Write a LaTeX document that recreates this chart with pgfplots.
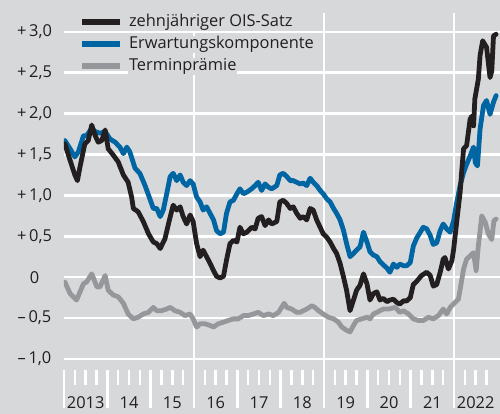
\documentclass[border=0pt]{standalone}
\usepackage{fontspec}
\setmainfont{Open Sans}
\usepackage{pgfplots}
\pgfplotsset{compat=1.18}
\definecolor{bg}{RGB}{215,216,218}
\definecolor{cblack}{RGB}{35,31,32}
\definecolor{cblue}{RGB}{0,101,163}
\definecolor{cgray}{RGB}{150,151,154}
\definecolor{txt}{RGB}{35,31,32}
\newcommand{\lblfont}{\fontsize{16.4bp}{19bp}\selectfont}
\begin{document}
\begin{tikzpicture}
\fill[bg] (0bp,0bp) rectangle (500bp,414bp);
\useasboundingbox (0bp,0bp) rectangle (500bp,414bp);
\begin{axis}[
  at={(64bp,6bp)}, anchor=south west,
  scale only axis, width=436bp, height=395bp,
  xmin=2013, xmax=2023.06, ymin=-1.6, ymax=3.23,
  axis line style={draw=none},
  tick pos=left,
  tick align=inside,
  major tick length=38bp,
  xtick={2013,2014,2015,2016,2017,2018,2019,2020,2021,2022},
  xticklabels={2013,14,15,16,17,18,19,20,21,2022},
  x tick style={white, line width=2.5bp},
  y tick style={draw=none},
  ytick={-1,-0.5,0,0.5,1,1.5,2,2.5,3},
  yticklabels={{–\,1,0},{–\,0,5},0,{+\,0,5},{+\,1,0},{+\,1,5},{+\,2,0},{+\,2,5},{+\,3,0}},
  ymajorgrids,
  extra x ticks={2016,2019,2022},
  extra x tick labels={},
  extra x tick style={grid=major},
  grid style={white, line width=2.5bp},
  xticklabel style={font=\lblfont, text=txt, anchor=center, xshift=21.67bp, yshift=5bp},
  yticklabel style={font=\lblfont, text=txt, anchor=center, xshift=-29.5bp},
  legend style={at={(rel axis cs:0.034,0.998)}, anchor=north west, draw=none, fill=none,
    inner sep=0pt, row sep=5bp, column sep=5bp, font=\lblfont, text=txt,
    nodes={fill=bg, inner sep=1bp, text height=11.5bp, text depth=3.5bp}},
  legend cell align=left,
  legend image code/.code={\draw[#1, line width=6bp, line cap=butt] (0bp,0bp) -- (38bp,0bp);},
  reverse legend,
  every axis plot/.append style={line width=4.8bp, line join=round, line cap=round},
]
\pgfplotsinvokeforeach{2013,2014,2015,2016,2017,2018,2019,2020,2021,2022}{
  \draw[white, line width=2.5bp] (axis cs:#1.25,-1.138) -- (axis cs:#1.25,-1.321);
  \draw[white, line width=2.5bp] (axis cs:#1.5,-1.138) -- (axis cs:#1.5,-1.321);
  \draw[white, line width=2.5bp] (axis cs:#1.75,-1.138) -- (axis cs:#1.75,-1.321);
}
% Terminpraemie
\addplot[cgray] coordinates {
(2013.02,-0.06)(2013.14,-0.20)(2013.29,-0.28)(2013.45,-0.08)(2013.52,-0.06)(2013.64,0.04)(2013.76,-0.12)(2013.83,-0.12)(2013.95,0.02)(2014.02,-0.16)(2014.14,-0.22)(2014.25,-0.24)(2014.37,-0.32)(2014.48,-0.45)(2014.60,-0.51)(2014.71,-0.49)(2014.83,-0.45)(2014.95,-0.43)(2015.06,-0.37)(2015.14,-0.41)(2015.25,-0.41)(2015.37,-0.39)(2015.45,-0.37)(2015.56,-0.41)(2015.68,-0.43)(2015.79,-0.47)(2015.91,-0.45)(2015.98,-0.51)(2016.06,-0.61)(2016.14,-0.57)(2016.25,-0.57)(2016.37,-0.59)(2016.45,-0.61)(2016.56,-0.57)(2016.68,-0.55)(2016.79,-0.53)(2016.91,-0.51)(2017.02,-0.51)(2017.14,-0.47)(2017.25,-0.47)(2017.37,-0.45)(2017.48,-0.43)(2017.60,-0.47)(2017.72,-0.45)(2017.83,-0.47)(2017.95,-0.43)(2018.02,-0.37)(2018.08,-0.32)(2018.14,-0.37)(2018.25,-0.39)(2018.37,-0.43)(2018.45,-0.43)(2018.52,-0.41)(2018.60,-0.39)(2018.72,-0.35)(2018.79,-0.37)(2018.87,-0.41)(2018.98,-0.45)(2019.10,-0.49)(2019.22,-0.51)(2019.33,-0.55)(2019.41,-0.61)(2019.52,-0.65)(2019.60,-0.67)(2019.68,-0.59)(2019.75,-0.53)(2019.87,-0.51)(2019.99,-0.49)(2020.06,-0.51)(2020.14,-0.45)(2020.22,-0.43)(2020.29,-0.41)(2020.37,-0.39)(2020.49,-0.39)(2020.64,-0.37)(2020.75,-0.43)(2020.83,-0.41)(2020.95,-0.45)(2021.06,-0.51)(2021.18,-0.53)(2021.29,-0.53)(2021.41,-0.49)(2021.52,-0.51)(2021.64,-0.47)(2021.75,-0.39)(2021.83,-0.45)(2021.91,-0.37)(2022.02,-0.31)(2022.10,-0.27)(2022.14,-0.15)(2022.22,0.10)(2022.29,0.22)(2022.37,0.26)(2022.45,0.30)(2022.51,0.08)(2022.56,0.38)(2022.64,0.75)(2022.72,0.67)(2022.79,0.53)(2022.87,0.46)(2022.92,0.69)(2022.97,0.71)
};
\addlegendentry{Terminprämie}
% Erwartungskomponente
\addplot[cblue] coordinates {
(2013.02,1.67)(2013.14,1.57)(2013.25,1.47)(2013.33,1.53)(2013.45,1.73)(2013.52,1.73)(2013.64,1.82)(2013.72,1.78)(2013.83,1.76)(2013.95,1.78)(2014.06,1.69)(2014.18,1.65)(2014.29,1.59)(2014.37,1.51)(2014.45,1.59)(2014.52,1.53)(2014.64,1.33)(2014.75,1.27)(2014.87,1.12)(2014.98,0.96)(2015.06,0.84)(2015.14,0.84)(2015.22,0.74)(2015.29,0.82)(2015.37,1.02)(2015.45,1.23)(2015.52,1.27)(2015.60,1.18)(2015.68,1.25)(2015.75,1.16)(2015.83,1.12)(2015.91,1.18)(2015.98,1.14)(2016.06,0.98)(2016.14,0.92)(2016.21,0.82)(2016.29,0.86)(2016.37,0.78)(2016.45,0.70)(2016.52,0.57)(2016.60,0.53)(2016.68,0.55)(2016.75,0.78)(2016.83,0.92)(2016.91,0.94)(2016.99,1.02)(2017.06,1.08)(2017.14,1.02)(2017.22,1.04)(2017.33,1.08)(2017.41,1.12)(2017.48,1.16)(2017.56,1.06)(2017.64,1.14)(2017.72,1.10)(2017.79,1.08)(2017.91,1.12)(2017.98,1.25)(2018.06,1.27)(2018.14,1.23)(2018.22,1.18)(2018.29,1.18)(2018.37,1.16)(2018.45,1.14)(2018.52,1.15)(2018.60,1.12)(2018.68,1.21)(2018.75,1.16)(2018.83,1.12)(2018.91,1.06)(2018.98,1.02)(2019.06,0.96)(2019.14,0.92)(2019.22,0.84)(2019.29,0.78)(2019.37,0.70)(2019.45,0.57)(2019.52,0.41)(2019.60,0.25)(2019.68,0.29)(2019.75,0.33)(2019.83,0.37)(2019.91,0.55)(2019.99,0.43)(2020.06,0.31)(2020.14,0.27)(2020.22,0.25)(2020.29,0.19)(2020.37,0.15)(2020.45,0.11)(2020.52,0.06)(2020.60,0.16)(2020.68,0.12)(2020.75,0.16)(2020.83,0.14)(2020.91,0.14)(2020.99,0.18)(2021.06,0.38)(2021.14,0.48)(2021.22,0.55)(2021.29,0.61)(2021.37,0.59)(2021.45,0.51)(2021.52,0.40)(2021.60,0.42)(2021.68,0.57)(2021.75,0.65)(2021.83,0.59)(2021.91,0.55)(2021.99,0.69)(2022.06,0.91)(2022.14,1.12)(2022.22,1.28)(2022.29,1.38)(2022.37,1.48)(2022.45,1.59)(2022.49,1.40)(2022.54,1.36)(2022.60,1.81)(2022.68,2.10)(2022.75,2.16)(2022.83,1.99)(2022.91,2.14)(2022.97,2.22)
};
\addlegendentry{Erwartungskomponente}
% zehnjaehriger OIS-Satz
\addplot[cblack] coordinates {
(2013.02,1.63)(2013.14,1.43)(2013.25,1.25)(2013.31,1.18)(2013.37,1.35)(2013.48,1.63)(2013.56,1.67)(2013.64,1.86)(2013.72,1.73)(2013.79,1.65)(2013.87,1.67)(2013.95,1.80)(2014.02,1.57)(2014.14,1.49)(2014.25,1.41)(2014.37,1.25)(2014.48,1.16)(2014.56,0.98)(2014.60,0.84)(2014.71,0.80)(2014.83,0.68)(2014.95,0.53)(2015.06,0.43)(2015.14,0.41)(2015.22,0.35)(2015.33,0.47)(2015.41,0.65)(2015.48,0.80)(2015.52,0.88)(2015.60,0.82)(2015.68,0.86)(2015.75,0.74)(2015.83,0.65)(2015.91,0.76)(2015.98,0.68)(2016.06,0.41)(2016.14,0.25)(2016.21,0.33)(2016.29,0.25)(2016.37,0.17)(2016.45,0.08)(2016.52,0.01)(2016.60,-0.01)(2016.68,0.01)(2016.75,0.21)(2016.83,0.41)(2016.91,0.45)(2016.99,0.43)(2017.06,0.61)(2017.14,0.53)(2017.22,0.55)(2017.33,0.61)(2017.41,0.59)(2017.48,0.72)(2017.56,0.74)(2017.64,0.63)(2017.72,0.70)(2017.79,0.65)(2017.91,0.68)(2017.98,0.92)(2018.06,0.94)(2018.14,0.90)(2018.22,0.84)(2018.29,0.86)(2018.37,0.78)(2018.45,0.72)(2018.52,0.74)(2018.60,0.70)(2018.68,0.84)(2018.75,0.82)(2018.83,0.70)(2018.91,0.61)(2018.98,0.53)(2019.06,0.49)(2019.14,0.43)(2019.22,0.35)(2019.29,0.29)(2019.37,0.17)(2019.45,0.00)(2019.52,-0.16)(2019.60,-0.41)(2019.68,-0.28)(2019.75,-0.16)(2019.83,-0.10)(2019.91,0.04)(2019.99,-0.08)(2020.06,-0.28)(2020.14,-0.20)(2020.22,-0.18)(2020.29,-0.28)(2020.37,-0.26)(2020.45,-0.30)(2020.52,-0.28)(2020.60,-0.27)(2020.68,-0.31)(2020.75,-0.33)(2020.83,-0.29)(2020.91,-0.29)(2020.99,-0.25)(2021.06,-0.09)(2021.14,-0.05)(2021.25,0.02)(2021.37,0.06)(2021.45,0.02)(2021.52,-0.11)(2021.60,-0.09)(2021.68,0.06)(2021.75,0.22)(2021.79,0.24)(2021.87,0.10)(2021.95,0.20)(2021.99,0.34)(2022.06,0.67)(2022.14,1.04)(2022.18,1.32)(2022.22,1.57)(2022.29,1.61)(2022.37,1.93)(2022.41,1.97)(2022.45,1.85)(2022.48,2.18)(2022.56,2.42)(2022.60,2.71)(2022.66,2.89)(2022.75,2.81)(2022.83,2.44)(2022.87,2.52)(2022.91,2.95)(2022.97,2.97)
};
\addlegendentry{zehnjähriger OIS-Satz}
\end{axis}
\end{tikzpicture}
\end{document}
